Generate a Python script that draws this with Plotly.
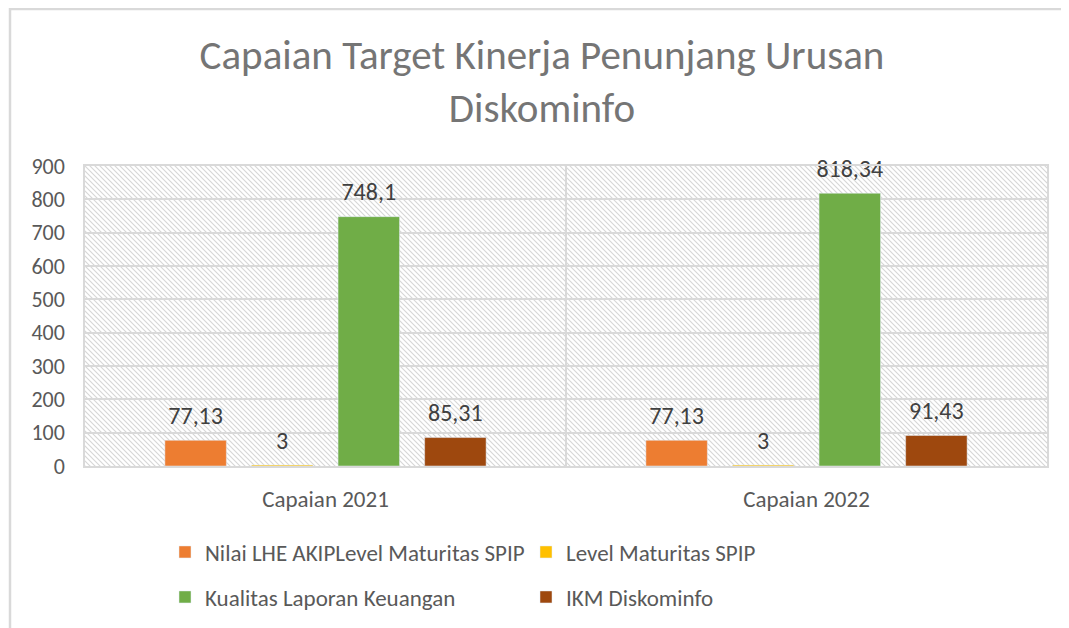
import plotly.graph_objects as go
import base64

categories = ["Capaian 2021", "Capaian 2022"]
series_names = ["Nilai LHE AKIPLevel Maturitas SPIP", "Level Maturitas SPIP",
                "Kualitas Laporan Keuangan", "IKM Diskominfo"]
nilai_lhe = [77.13, 77.13]
level_spip = [3, 3]
kualitas_lk = [748.1, 818.34]
ikm = [85.31, 91.43]
series_values = [nilai_lhe, level_spip, kualitas_lk, ikm]
colors = ["#ED7D31", "#FFC000", "#70AD47", "#9E480E"]
legend_ids = ["legend", "legend", "legend2", "legend2"]
y_ticks = [0, 100, 200, 300, 400, 500, 600, 700, 800, 900]

FONT = "Carlito, Calibri, Lato, sans-serif"
W, H = 1069, 628
# page has an 8px body margin; plot area wanted at page x 85..1047, y 166..466
ML, MT = 77, 158
PW, PH = 962, 300
MR, MB = W - ML - PW, H - MT - PH

def fmt(v):
    return f"{v:g}".replace(".", ",")

fig = go.Figure()
for i, (name, vals, col, lg) in enumerate(zip(series_names, series_values, colors, legend_ids)):
    fig.add_trace(go.Bar(
        x=categories, y=vals, name=name, marker_color=col,
        legend=lg, offsetgroup=f"g{i}", alignmentgroup="a",
    ))
for i, vals in enumerate(series_values):
    fig.add_trace(go.Scatter(
        x=categories, y=vals, mode="markers+text",
        marker=dict(size=15, color="rgba(0,0,0,0)"),
        text=[fmt(v) for v in vals], textposition="top center",
        textfont=dict(family=FONT, size=24, color="#404040"),
        offsetgroup=f"g{i}", alignmentgroup="a",
        showlegend=False, hoverinfo="skip", cliponaxis=False,
    ))

# hatched plot-area background
svg = (f'<svg xmlns="http://www.w3.org/2000/svg" width="{PW}" height="{PH}">'
       '<defs><pattern id="p" width="5" height="5" patternUnits="userSpaceOnUse">'
       '<rect width="5" height="5" fill="white"/>'
       '<path d="M-1,-1 L6,6 M-1,4 L1,6 M4,-1 L6,1" stroke="#d6d6d6" stroke-width="1.1"/>'
       '</pattern></defs>'
       f'<rect width="{PW}" height="{PH}" fill="url(#p)"/></svg>')
uri = "data:image/svg+xml;base64," + base64.b64encode(svg.encode()).decode()

fig.add_layout_image(dict(source=uri, xref="paper", yref="paper", x=0, y=1,
                          sizex=1, sizey=1, sizing="stretch", layer="below",
                          xanchor="left", yanchor="top"))

# chart border (left and top visible)
fig.add_shape(type="rect", xref="paper", yref="paper",
              x0=(2 - ML) / PW, x1=(W + 20 - ML) / PW,
              y0=-(H + 20 - (MT + PH)) / PH, y1=(MT + PH - 1) / PH,
              line=dict(color="#d9d9d9", width=2.5), fillcolor="rgba(0,0,0,0)")

leg_x = (157 - ML) / PW
fig.update_layout(
    width=W, height=H,
    margin=dict(l=ML, r=MR, t=MT, b=MB),
    paper_bgcolor="white", plot_bgcolor="rgba(0,0,0,0)",
    font=dict(family=FONT, size=22, color="#595959"),
    title=dict(text="Capaian Target Kinerja Penunjang Urusan<br>Diskominfo",
               x=534 / W, xanchor="center", xref="container",
               y=1 - 61 / H, yanchor="top", yref="container",
               font=dict(family=FONT, size=41, color="#757575")),
    barmode="group", bargap=0.28, bargroupgap=0.29,
    scattermode="group", scattergap=0.28,
    showlegend=True,
    legend=dict(orientation="h", x=leg_x, xanchor="left",
                y=-(544 - (MT + PH)) / PH, yanchor="middle",
                entrywidth=316,
                font=dict(family=FONT, size=23, color="#595959"),
                bgcolor="rgba(0,0,0,0)"),
    legend2=dict(orientation="h", x=leg_x, xanchor="left",
                 y=-(589 - (MT + PH)) / PH, yanchor="middle",
                 entrywidth=316,
                 font=dict(family=FONT, size=23, color="#595959"),
                 bgcolor="rgba(0,0,0,0)"),
)
fig.update_xaxes(type="category", tickson="boundaries", showgrid=True,
                 gridcolor="#d9d9d9", gridwidth=1.5, ticks="",
                 showline=True, mirror=True, linecolor="#d9d9d9", linewidth=1.5,
                 ticklabelstandoff=12, tickfont=dict(size=23, color="#595959"))
fig.update_yaxes(range=[0, 900], tickvals=y_ticks, showgrid=True,
                 gridcolor="#d9d9d9", gridwidth=1.5, zeroline=False, ticks="",
                 showline=True, mirror=True, linecolor="#d9d9d9", linewidth=1.5,
                 ticklabelstandoff=14, tickfont=dict(size=22, color="#595959"))

fig.write_html("out.html")
